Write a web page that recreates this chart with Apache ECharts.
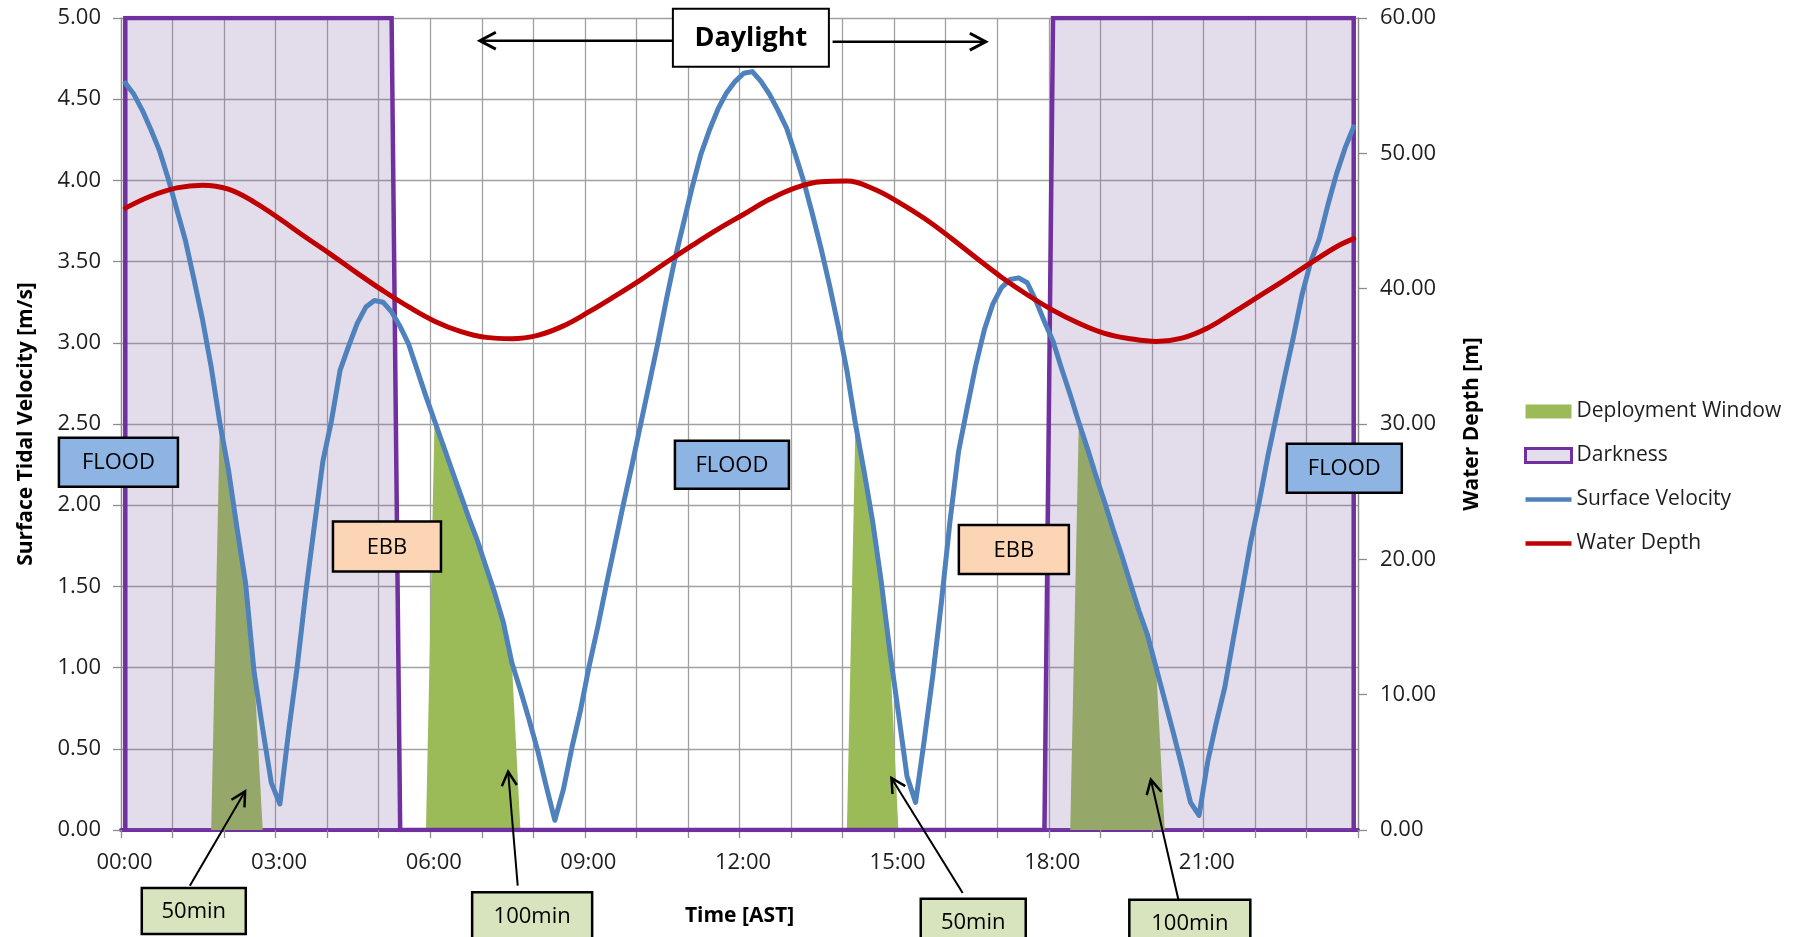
<!DOCTYPE html>
<html>
<head>
<meta charset="utf-8">
<script src="https://cdn.jsdelivr.net/npm/echarts@6/dist/echarts.min.js"></script>
<style>
html,body{margin:0;padding:0;background:#ffffff;}
#chart{width:1802px;height:937px;}
</style>
</head>
<body>
<div id="chart"></div>
<script>
// ---------------- DATA ----------------
// x-axis tick labels (every 3 hours)
const timeLabels = ['00:00','03:00','06:00','09:00','12:00','15:00','18:00','21:00'];

// Surface tidal velocity [m/s], one value every 10 minutes from 00:00 to 23:50
const velocity = [
  4.60,4.53,4.43,4.31,4.18,4.01, 3.82,3.63,3.39,3.14,2.85,2.51,
  2.22,1.86,1.52,0.97,0.62,0.29, 0.16,0.60,1.00,1.46,1.87,2.27,
  2.52,2.83,2.98,3.12,3.22,3.26, 3.25,3.19,3.10,2.99,2.83,2.67,
  2.52,2.37,2.22,2.07,1.92,1.78, 1.62,1.46,1.28,1.03,0.86,0.68,
  0.49,0.27,0.06,0.25,0.51,0.74, 1.01,1.25,1.51,1.76,2.01,2.25,
  2.50,2.75,3.00,3.27,3.52,3.74, 3.96,4.16,4.31,4.44,4.54,4.61,
  4.66,4.67,4.61,4.53,4.43,4.32, 4.16,3.99,3.79,3.58,3.35,3.10,
  2.83,2.50,2.21,1.90,1.53,1.10, 0.72,0.33,0.17,0.55,0.95,1.40,
  1.90,2.33,2.60,2.86,3.08,3.24, 3.34,3.39,3.40,3.37,3.26,3.13,
  3.01,2.84,2.68,2.51,2.35,2.18, 2.02,1.85,1.69,1.52,1.35,1.20,
  1.00,0.80,0.60,0.39,0.17,0.09, 0.42,0.66,0.88,1.18,1.47,1.77,
  2.02,2.30,2.55,2.80,3.04,3.30, 3.50,3.64,3.85,4.04,4.20,4.33
];

// Water depth [m]
const depthTimes = [
  '00:00','00:30','01:00','01:30','02:00','02:30','03:00','03:30','04:00','04:30',
  '05:00','05:30','06:00','06:30','07:00','07:30','08:00','08:30','09:00','09:30',
  '10:00','10:30','11:00','11:30','12:00','12:30','13:00','13:30','14:00','14:30',
  '15:00','15:30','16:00','16:30','17:00','17:30','18:00','18:30','19:00','19:30',
  '20:00','20:30','21:00','21:30','22:00','22:30','23:00','23:30','23:50'
];
const depth = [
  45.95,46.85,47.45,47.65,47.35,46.40,45.15,43.80,42.50,41.15,
  39.85,38.65,37.60,36.85,36.40,36.30,36.55,37.25,38.30,39.45,
  40.65,41.95,43.20,44.40,45.50,46.60,47.45,47.90,47.95,47.40,
  46.40,45.20,43.80,42.30,40.85,39.55,38.40,37.45,36.70,36.30,
  36.10,36.35,37.10,38.25,39.45,40.65,41.90,43.10,43.70
];

// Darkness periods (first and last 10-minute slot at full level)
const darknessPeriods = [['00:00','05:10'], ['18:00','23:50']];
const darknessLevel = 5;

// Deployment windows: first slot time and values (10-minute slots)
const windowStarts = ['01:40','05:50','14:00','18:20'];
const windowValues = [
  [0,2.51,2.22,1.86,1.52,0.97,0],
  [0,2.52,2.37,2.22,2.07,1.92,1.78,1.62,1.46,1.28,1.03,0],
  [0,2.50,2.21,1.90,1.53,1.10,0],
  [0,2.51,2.35,2.18,2.02,1.85,1.69,1.52,1.35,1.20,1.00,0]
];
const windowLabels = ['50min','100min','50min','100min'];

// ---------------- HELPERS ----------------
const SLOT = 1/6; // 10 minutes in hours
function hours(t){ const p = t.split(':'); return (+p[0]) + (+p[1])/60; }
function pos(t){ return hours(t) + SLOT/2; }          // centre of the 10-minute slot
function posIdx(i){ return (i + 0.5) * SLOT; }

const velData = velocity.map((v,i)=>[posIdx(i), v]);
const depthData = depth.map((d,i)=>[pos(depthTimes[i]), d]);

const nSlots = velocity.length;
const darkSlots = [];
for (let i=0;i<nSlots;i++){
  const h = i*SLOT + 1e-6;
  let on = false;
  darknessPeriods.forEach(p=>{ if (h >= hours(p[0]) && h <= hours(p[1])+1e-4) on = true; });
  darkSlots.push(on ? darknessLevel : 0);
}
const darkData = [[posIdx(0),0]].concat(darkSlots.map((v,i)=>[posIdx(i),v])).concat([[posIdx(nSlots-1),0]]);

const C_BLUE='#4F81BD', C_RED='#C00000', C_GREEN='#9BBB59', C_PURPLE='#7030A0';
const C_DARK_FILL='rgba(128,100,162,0.22)';
const C_GRID='#A0A0A0', C_AXIS='#8C8C8C', C_TEXT='#1E1E1E';
const FONT='"Open Sans", "DejaVu Sans", sans-serif';
const LINE_ICON='path://M0,0 L46,0 L46,4.5 L0,4.5 Z';

const deploySeries = windowStarts.map((s,k)=>({
  name:'Deployment Window', type:'line', yAxisIndex:0, symbol:'none',
  data: windowValues[k].map((v,j)=>[pos(s)+j*SLOT, v]),
  lineStyle:{width:0, color:C_GREEN}, itemStyle:{color:C_GREEN},
  areaStyle:{color:C_GREEN, opacity:1}, z:2, silent:true
}));

const chart = echarts.init(document.getElementById('chart'), null, {renderer:'canvas'});

const option = {
  animation:false,
  backgroundColor:'#ffffff',
  textStyle:{fontFamily:FONT, color:C_TEXT},
  grid:{left:121, right:444, top:18, bottom:107, containLabel:false, outerBoundsMode:'none'},
  legend:{
    orient:'vertical', left:1519, top:396, itemWidth:46, itemHeight:14, itemGap:23,
    symbolKeepAspect:true,
    textStyle:{fontFamily:FONT, fontSize:21, color:C_TEXT},
    data:[
      {name:'Deployment Window', icon:'rect', itemStyle:{color:C_GREEN, borderWidth:0}},
      {name:'Darkness', icon:'rect', itemStyle:{color:'#E3DEEB', borderColor:C_PURPLE, borderWidth:3}},
      {name:'Surface Velocity', icon:LINE_ICON, itemStyle:{color:C_BLUE, borderWidth:0}},
      {name:'Water Depth', icon:LINE_ICON, itemStyle:{color:C_RED, borderWidth:0}}
    ],
    selectedMode:false
  },
  xAxis:{
    type:'value', min:0, max:24, interval:1,
    name:'Time [AST]', nameLocation:'middle', nameGap:76,
    nameTextStyle:{fontFamily:FONT, fontWeight:'bold', fontSize:21, color:'#000'},
    axisLine:{show:true, onZero:false, lineStyle:{color:C_PURPLE, width:4}},
    axisTick:{show:true, length:8, lineStyle:{color:C_AXIS, width:1.3}},
    axisLabel:{fontFamily:FONT, fontSize:22, color:C_TEXT, margin:22, padding:[0,0,0,7],
      formatter:(v)=> (v%3===0 && v<24) ? timeLabels[v/3] : ''},
    splitLine:{show:true, lineStyle:{color:C_GRID, width:1.3}}
  },
  yAxis:[
    {
      type:'value', min:0, max:5, interval:0.5, position:'left',
      name:'Surface Tidal Velocity [m/s]', nameLocation:'middle', nameGap:84, nameRotate:90,
      nameTextStyle:{fontFamily:FONT, fontWeight:'bold', fontSize:21, color:'#000'},
      axisLine:{show:true, onZero:false, lineStyle:{color:C_AXIS, width:1.3}},
      axisTick:{show:true, length:8, lineStyle:{color:C_AXIS, width:1.3}},
      axisLabel:{fontFamily:FONT, fontSize:22, color:C_TEXT, margin:20, formatter:(v)=>v.toFixed(2)},
      splitLine:{show:true, lineStyle:{color:C_GRID, width:1.3}}
    },
    {
      type:'value', min:0, max:60, interval:10, position:'right',
      name:'Water Depth [m]', nameLocation:'middle', nameGap:104, nameRotate:90,
      nameTextStyle:{fontFamily:FONT, fontWeight:'bold', fontSize:21, color:'#000'},
      axisLine:{show:true, onZero:false, lineStyle:{color:C_AXIS, width:1.3}},
      axisTick:{show:true, length:9, lineStyle:{color:C_AXIS, width:1.3}},
      axisLabel:{fontFamily:FONT, fontSize:22, color:C_TEXT, margin:22, formatter:(v)=>v.toFixed(2)},
      splitLine:{show:false}
    }
  ],
  series: deploySeries.concat([
    {
      name:'Darkness', type:'line', yAxisIndex:0, symbol:'none', data:darkData,
      lineStyle:{color:C_PURPLE, width:4.5, join:'miter'}, itemStyle:{color:C_PURPLE},
      areaStyle:{color:C_DARK_FILL, opacity:1}, z:3, silent:true
    },
    {
      name:'Surface Velocity', type:'line', yAxisIndex:0, symbol:'none', data:velData,
      lineStyle:{color:C_BLUE, width:5, join:'round', cap:'round'}, itemStyle:{color:C_BLUE}, z:4, silent:true
    },
    {
      name:'Water Depth', type:'line', yAxisIndex:1, symbol:'none', data:depthData,
      smooth:0.4,
      lineStyle:{color:C_RED, width:5, join:'round', cap:'round'}, itemStyle:{color:C_RED}, z:5, silent:true
    }
  ])
};
chart.setOption(option);

// ---------------- ANNOTATIONS (placed in data coordinates) ----------------
const P = (h,v)=>chart.convertToPixel({xAxisIndex:0, yAxisIndex:0},[h,v]);
const tideBoxes = [
  {text:'FLOOD', h:-0.05, v:2.265, w:119, ht:49, fill:'#8DB4E2'},
  {text:'FLOOD', h:11.853, v:2.249, w:114, ht:48, fill:'#8DB4E2'},
  {text:'FLOOD', h:23.734, v:2.228, w:115, ht:49, fill:'#8DB4E2'},
  {text:'EBB', h:5.160, v:1.746, w:108, ht:50, fill:'#FCD5B4'},
  {text:'EBB', h:17.323, v:1.727, w:110, ht:49, fill:'#FCD5B4'}
];
const labelBoxes = [
  {h:1.412, v:-0.499, w:104, ht:46, tail:[1.336,-0.343], head:[2.408,0.238]},
  {h:7.977, v:-0.525, w:120, ht:46, tail:[7.697,-0.343], head:[7.511,0.360]},
  {h:16.535, v:-0.565, w:105, ht:46, tail:[16.330,-0.388], head:[14.948,0.320]},
  {h:20.737, v:-0.571, w:121, ht:46, tail:[20.516,-0.429], head:[19.981,0.310]}
];
const daylight = {text:'Daylight', h:12.221, v:4.879, w:156, ht:58,
  arrows:[{tail:[10.708,4.860], head:[6.964,4.860]}, {tail:[13.806,4.854], head:[16.777,4.854]}]};

const els = [];
function addBox(cx, cy, w, ht, fill, text, font, lw){
  els.push({type:'rect', z:100, shape:{x:cx-w/2, y:cy-ht/2, width:w, height:ht},
    style:{fill:fill, stroke:'#000', lineWidth:lw}});
  els.push({type:'text', z:101, style:{text:text, x:cx, y:cy+1, font:font, fill:'#000',
    align:'center', verticalAlign:'middle', textAlign:'center', textVerticalAlign:'middle'}});
}
function addArrow(tail, head, lw, wing){
  const a = P(tail[0],tail[1]), b = P(head[0],head[1]);
  els.push({type:'line', z:99, shape:{x1:a[0],y1:a[1],x2:b[0],y2:b[1]}, style:{stroke:'#000', lineWidth:lw}});
  const ang = Math.atan2(a[1]-b[1], a[0]-b[0]);
  const d = 28*Math.PI/180;
  const p1 = [b[0]+wing*Math.cos(ang+d), b[1]+wing*Math.sin(ang+d)];
  const p2 = [b[0]+wing*Math.cos(ang-d), b[1]+wing*Math.sin(ang-d)];
  els.push({type:'polyline', z:99, shape:{points:[p1,b,p2]}, style:{stroke:'#000', lineWidth:lw+0.5, fill:null}});
}
tideBoxes.forEach(b=>{
  const c = P(b.h,b.v);
  addBox(c[0], c[1], b.w, b.ht, b.fill, b.text, '22px ' + FONT, 2.5);
});
labelBoxes.forEach((b,k)=>{
  addArrow(b.tail, b.head, 2, 16);
  const c = P(b.h,b.v);
  addBox(c[0], c[1], b.w, b.ht, '#D7E4BD', windowLabels[k], '22px ' + FONT, 2.5);
});
daylight.arrows.forEach(a=>addArrow(a.tail, a.head, 2.5, 18));
(function(){
  const c = P(daylight.h, daylight.v);
  addBox(c[0], c[1], daylight.w, daylight.ht, '#ffffff', daylight.text, 'bold 27px ' + FONT, 2);
})();
chart.setOption({graphic:{elements:els}});
</script>
</body>
</html>
